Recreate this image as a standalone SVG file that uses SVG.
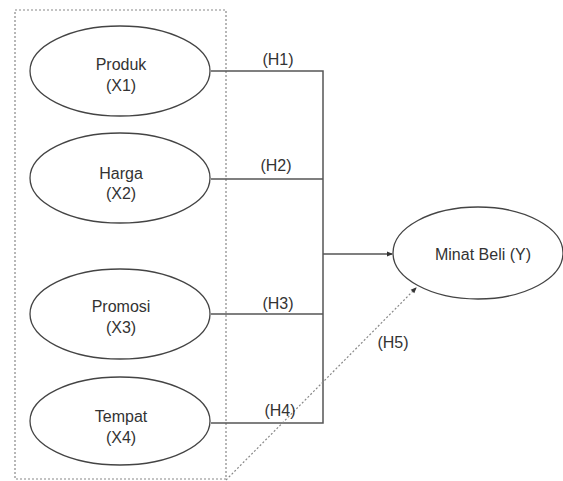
<svg xmlns="http://www.w3.org/2000/svg" width="563" height="481" viewBox="0 0 563 481">
<defs>
<style>
.node{fill:#fff;stroke:#444;stroke-width:1.3}
.t{font-family:"Liberation Sans",Arial,sans-serif;font-size:16px;fill:#333;text-anchor:middle}
.c{fill:none;stroke:#555;stroke-width:1.5}
.d{fill:none;stroke:#888;stroke-width:1.2;stroke-dasharray:2 2}
</style>
<marker id="ah" markerWidth="6" markerHeight="6" refX="5" refY="3" orient="auto" markerUnits="userSpaceOnUse">
<path d="M0,0.5 L6,3 L0,5.5 Z" fill="#333"/>
</marker>
</defs>
<rect width="563" height="481" fill="#fff"/>
<rect id="group-box" x="15" y="10" width="211" height="469" class="d"/>
<g id="connectors">
<path class="c" d="M211,71 H323 V423 H211"/>
<path class="c" d="M211,179 H323"/>
<path class="c" d="M211,314 H323"/>
<path class="c" d="M323,254 H392" marker-end="url(#ah)"/>
<path class="d" d="M226,480 L416,288" marker-end="url(#ah)"/>
<text class="t" x="278" y="65">(H1)</text>
<text class="t" x="276" y="171">(H2)</text>
<text class="t" x="278" y="309">(H3)</text>
<text class="t" x="280" y="416">(H4)</text>
<text class="t" x="393" y="348">(H5)</text>
</g>
<g id="produk">
<ellipse class="node" cx="120" cy="71" rx="90" ry="45"/>
<text class="t" x="121" y="70">Produk</text>
<text class="t" x="121" y="91">(X1)</text>
</g>
<g id="harga">
<ellipse class="node" cx="120" cy="178" rx="90" ry="45"/>
<text class="t" x="121" y="179">Harga</text>
<text class="t" x="121" y="199">(X2)</text>
</g>
<g id="promosi">
<ellipse class="node" cx="120" cy="314" rx="90" ry="45"/>
<text class="t" x="121" y="312">Promosi</text>
<text class="t" x="121" y="333">(X3)</text>
</g>
<g id="tempat">
<ellipse class="node" cx="120" cy="421" rx="90" ry="44"/>
<text class="t" x="121" y="422">Tempat</text>
<text class="t" x="121" y="443">(X4)</text>
</g>
<g id="minat-beli">
<ellipse class="node" cx="478" cy="253" rx="85" ry="46"/>
<text class="t" x="483" y="260">Minat Beli (Y)</text>
</g>
</svg>
